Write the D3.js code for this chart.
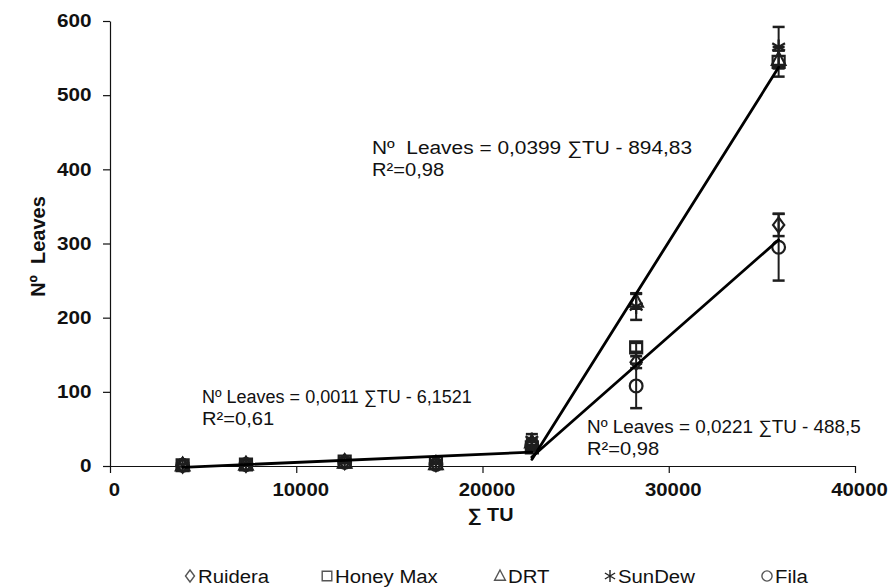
<!DOCTYPE html>
<html>
<head>
<meta charset="utf-8">
<script src="https://cdn.jsdelivr.net/npm/d3@7"></script>
<style>
  html, body { margin: 0; padding: 0; background: #fff; }
  svg { display: block; font-family: "Liberation Sans", Arial, sans-serif; }
  svg text { white-space: pre; }
</style>
</head>
<body>
<svg id="chart" width="893" height="588"></svg>
<script>
// Thermal-time sums (∑TU) at each sampling date
const tuSum = [3900, 7300, 12600, 17500, 22650, 28250, 35900];

// Leaf counts per cultivar
const cultivars = ["Ruidera", "Honey Max", "DRT", "SunDew", "Fila"];
const ruidera  = [1, 2, 6, 3, 30, 140, 325];
const honeyMax = [1, 2, 6, 4, 25, 160, 545];
const drt      = [1, 2, 5, 3, 32, 222, 548];
const sunDew   = [1, 3, 6, 4, 35, 215, 565];
const fila     = [1, 2, 5, 2, 28, 108, 295];

// Standard errors per cultivar
const ruideraErr  = [0, 0, 1, 0, 3, 8, 15];
const honeyMaxErr = [0, 0, 1, 1, 3, 6, 20];
const drtErr      = [0, 0, 1, 0, 4, 10, 12];
const sunDewErr   = [0, 0, 1, 1, 8, 18, 27];
const filaErr     = [0, 0, 1, 0, 4, 30, 45];

// Linear fits: N = slope * ∑TU + intercept
const fitSlope     = [0.0011, 0.0399, 0.0221];
const fitIntercept = [-6.1521, -894.83, -488.5];
const fitFrom      = [3900, 22650, 22650];
const fitTo        = [22650, 35900, 35900];
const fitEquation  = ["Nº Leaves = 0,0011 ∑TU - 6,1521", "Nº  Leaves = 0,0399 ∑TU - 894,83", "Nº Leaves = 0,0221 ∑TU - 488,5"];
const fitR2        = ["0,61", "0,98", "0,98"];

const xTicks = [0, 10000, 20000, 30000, 40000];
const yTicks = [0, 100, 200, 300, 400, 500, 600];

const series = [
  { name: cultivars[0], values: ruidera,  err: ruideraErr,  shape: "diamond" },
  { name: cultivars[1], values: honeyMax, err: honeyMaxErr, shape: "square" },
  { name: cultivars[2], values: drt,      err: drtErr,      shape: "triangle" },
  { name: cultivars[3], values: sunDew,   err: sunDewErr,   shape: "asterisk" },
  { name: cultivars[4], values: fila,     err: filaErr,     shape: "circle" }
];

const svg = d3.select("#chart");
const ink = "#111";
const markInk = "#1e1e1e";

const x = d3.scaleLinear().domain([0, 40000]).range([110, 855]);
const y = d3.scaleLinear().domain([0, 600]).range([466, 21]);

// Horizontally widened text helper
function wideText(parent, px, py, sx, size) {
  return parent.append("text")
    .attr("transform", `translate(${px},${py}) scale(${sx},1)`)
    .attr("font-size", size).attr("fill", ink);
}

// Axes
const yAxis = svg.append("g").attr("transform", `translate(${x(0)},0)`)
  .call(d3.axisLeft(y).tickValues(yTicks).tickSize(7).tickSizeOuter(0).tickPadding(9));
const xAxis = svg.append("g").attr("transform", `translate(0,${y(0)})`)
  .call(d3.axisBottom(x).tickValues(xTicks).tickSize(7).tickSizeOuter(0).tickPadding(10).tickFormat(d3.format("d")));
[yAxis, xAxis].forEach(g => {
  g.selectAll("path, line").attr("stroke", ink).attr("stroke-width", 1.2);
  g.selectAll("text").attr("fill", ink).attr("font-size", 18).attr("font-weight", "bold")
    .attr("font-family", "Liberation Sans, Arial, sans-serif");
});
yAxis.selectAll(".tick text").attr("transform", "scale(1.15,1)");
xAxis.selectAll(".tick text").attr("transform", "translate(4,0) scale(1.13,1)");

// Axis titles
svg.append("text")
  .attr("transform", `translate(45,${(y(0) + y(600)) / 2 + 3}) rotate(-90)`)
  .attr("text-anchor", "middle").attr("font-size", 20).attr("font-weight", "bold").attr("fill", ink)
  .text("Nº  Leaves");
wideText(svg, x(20000) + 8, 521, 1.1, 18)
  .attr("text-anchor", "middle").attr("font-weight", "bold")
  .text("∑ TU");

// Marker shapes
function markerPath(shape, r) {
  switch (shape) {
    case "diamond":  return `M0,${-r}L${r * 0.75},0L0,${r}L${-r * 0.75},0Z`;
    case "square":   return `M${-r * 0.8},${-r * 0.8}H${r * 0.8}V${r * 0.8}H${-r * 0.8}Z`;
    case "triangle": return `M0,${-r}L${r * 0.9},${r * 0.7}H${-r * 0.9}Z`;
    case "asterisk": {
      const a = r * 0.85, b = r * 0.5;
      return `M0,${-r}V${r}M${-a},${-b}L${a},${b}M${-a},${b}L${a},${-b}`;
    }
    case "circle":   return d3.arc()({ innerRadius: 0, outerRadius: r * 0.85, startAngle: 0, endAngle: 2 * Math.PI });
  }
}

// Error bars
const capHalf = 6;
series.forEach(s => {
  const g = svg.append("g").attr("stroke", markInk).attr("stroke-width", 2);
  s.values.forEach((v, i) => {
    const e = s.err[i];
    if (!e) return;
    const cx = x(tuSum[i]);
    g.append("line").attr("x1", cx).attr("x2", cx).attr("y1", y(v - e)).attr("y2", y(v + e));
    g.append("line").attr("x1", cx - capHalf).attr("x2", cx + capHalf).attr("y1", y(v + e)).attr("y2", y(v + e)).attr("stroke-width", 2.5);
    g.append("line").attr("x1", cx - capHalf).attr("x2", cx + capHalf).attr("y1", y(v - e)).attr("y2", y(v - e)).attr("stroke-width", 2.5);
  });
});

// Data markers
series.forEach(s => {
  svg.append("g").selectAll("path")
    .data(s.values)
    .join("path")
    .attr("transform", (v, i) => `translate(${x(tuSum[i])},${y(v)})`)
    .attr("d", markerPath(s.shape, 7.5))
    .attr("fill", "none")
    .attr("stroke", markInk)
    .attr("stroke-width", 2.2);
});

// Regression lines
fitSlope.forEach((m, k) => {
  svg.append("line")
    .attr("x1", x(fitFrom[k])).attr("y1", y(m * fitFrom[k] + fitIntercept[k]))
    .attr("x2", x(fitTo[k])).attr("y2", y(m * fitTo[k] + fitIntercept[k]))
    .attr("stroke", "#000").attr("stroke-width", 2.8).attr("stroke-linecap", "round");
});

// Equation labels
const eqPos = [[202, 403], [372, 154], [587, 433]];
const eqStretch = [1.0, 1.16, 1.05];
fitEquation.forEach((eq, k) => {
  wideText(svg, eqPos[k][0], eqPos[k][1], eqStretch[k], 18).text(eq);
  wideText(svg, eqPos[k][0], eqPos[k][1] + 22, 1.12, 18).text("R²=" + fitR2[k]);
});

// Legend
const legendX = [186, 323, 496, 606, 763];
const legend = svg.append("g");
series.forEach((s, k) => {
  const cx = legendX[k] + 4;
  legend.append("path")
    .attr("transform", `translate(${cx},576)`)
    .attr("d", markerPath(s.shape, 6))
    .attr("fill", "none").attr("stroke", s.shape === "asterisk" ? "#222" : "#555").attr("stroke-width", 1.4);
  wideText(legend, cx + 8, 583, 1.13, 18).text(s.name);
});
</script>
</body>
</html>
